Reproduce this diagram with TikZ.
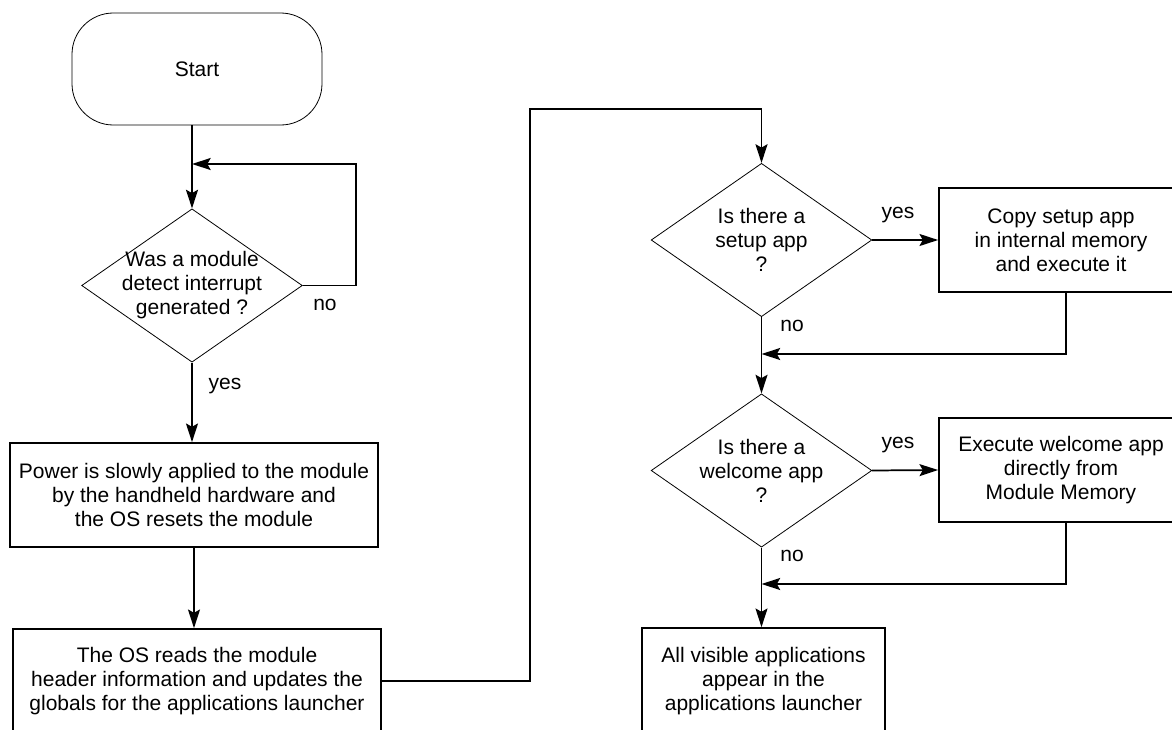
\documentclass[tikz,border=0pt]{standalone}
\usepackage{fontspec}
\setmainfont{Liberation Sans}
\usetikzlibrary{shapes.geometric,arrows.meta}

\tikzset{
  flow/.style={line width=1.3pt, -{Stealth[length=14pt,width=9pt,inset=2.5pt]}},
  terminal/.style={draw, line width=0.6pt, rounded corners=31pt,
    minimum width=187.5pt, minimum height=84pt},
  decision/.style={draw, diamond, line width=0.6pt, inner sep=0pt,
    minimum width=165.5pt, minimum height=115pt},
  process/.style={draw, line width=1.3pt, align=center, minimum height=78pt},
  tag/.style={inner sep=0pt}
}

\begin{document}
\begin{tikzpicture}[x=0.75pt, y=-0.75pt,
    every node/.style={font=\fontsize{15.75pt}{18pt}\selectfont}]
    \useasboundingbox (0,0) rectangle (1172,729);
    \clip (0,0) rectangle (1172,729);

    % left column
    \node[terminal] (start) at (197,69) {Start};
    \node[decision, label={[align=center]center:{Was a module\\detect interrupt\\generated ?}}]
        (d1) at (192,285.5) {};
    \node[process, minimum width=275.6pt] (b1) at (194,495)
        {Power is slowly applied to the module\\by the handheld hardware and\\the OS resets the module};
    \node[process, minimum width=276pt] (b2) at (197,681)
        {The OS reads the module\\header information and updates the\\globals for the applications launcher};

    % right column
    \node[decision, label={[align=center]center:{Is there a\\setup app\\?}}]
        (d2) at (761.5,240) {};
    \node[process, minimum width=183pt] (b3) at (1061,240)
        {Copy setup app\\in internal memory\\and execute it};
    \node[decision, label={[align=center]center:{Is there a\\welcome app\\?}}]
        (d3) at (761.5,470.5) {};
    \node[process, minimum width=183pt] (b4) at (1061,470)
        {Execute welcome app\\directly from\\Module Memory};
    \node[process, minimum width=182pt, minimum height=79.5pt] (b5) at (763.5,681)
        {All visible applications\\appear in the\\applications launcher};

    % bend points
    \coordinate (loop) at (356,164);
    \coordinate (bend) at (530,109);
    \coordinate (j1) at (761.5,354);
    \coordinate (j2) at (761.5,584);

    % connectors
    \draw[flow] (start.south -| d1.north) -- (d1.north);
    \draw[flow] (d1.east) -| (loop) -- (loop -| d1.north);
    \draw[flow] (d1.south) -- (b1.north -| d1.south);
    \draw[flow] (b1.south) -- (b2.north -| b1.south);
    \draw[flow] (b2.east) -| (bend) -| (d2.north);
    \draw[flow] (d2.east) -- (b3.west);
    \draw[flow] (d2.south) -- (d3.north);
    \draw[flow] ([xshift=3.75pt]b3.south) |- (j1);
    \draw[flow] (d3.east) -- (b4.west);
    \draw[flow] (d3.south) -- (b5.north -| d3.south);
    \draw[flow] ([xshift=3.75pt]b4.south) |- (j2);

    % branch labels
    \node[tag] (no1) at (325,305) {no};
    \node[tag] (yes1) at (225,386) {yes};
    \node[tag] (yes2) at (898,215) {yes};
    \node[tag] (no2) at (792,326) {no};
    \node[tag] (yes3) at (898,445) {yes};
    \node[tag] (no3) at (792,556) {no};
\end{tikzpicture}
\end{document}
